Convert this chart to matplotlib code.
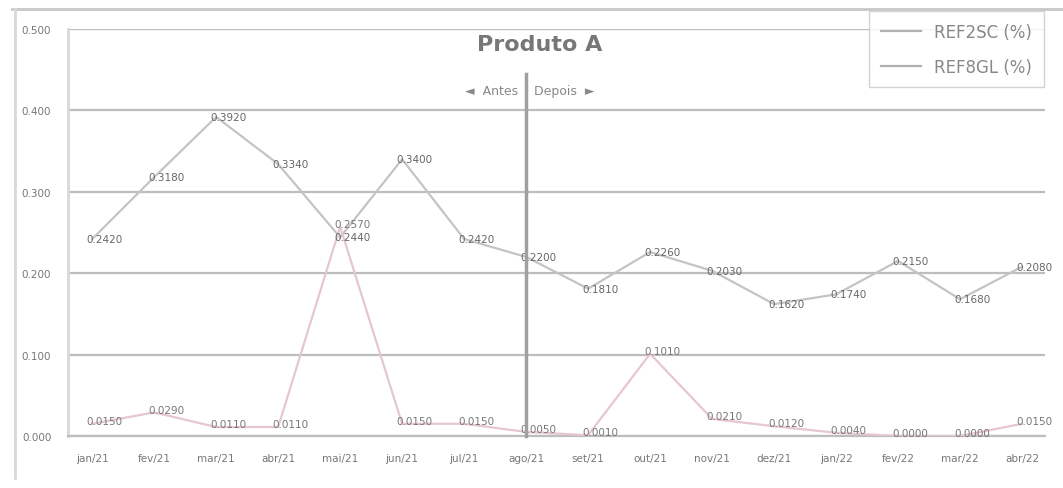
import matplotlib
matplotlib.use("Agg")
import matplotlib.pyplot as plt
from matplotlib.lines import Line2D

# Monthly categories and the two series (in %)
categories = ["jan/21", "fev/21", "mar/21", "abr/21", "mai/21", "jun/21", "jul/21", "ago/21",
              "set/21", "out/21", "nov/21", "dez/21", "jan/22", "fev/22", "mar/22", "abr/22"]
ref_a = [0.242, 0.318, 0.392, 0.334, 0.244, 0.340, 0.242, 0.220,
         0.181, 0.226, 0.203, 0.162, 0.174, 0.215, 0.168, 0.208]
ref_b = [0.015, 0.029, 0.011, 0.011, 0.257, 0.015, 0.015, 0.005,
         0.001, 0.101, 0.021, 0.012, 0.004, 0.000, 0.000, 0.015]
series_names = ["REF2SC (%)", "REF8GL (%)"]
yticks = [0.0, 0.1, 0.2, 0.3, 0.4, 0.5]
split_index = 7
split_labels = ["Antes", "Depois"]
title = "Produto A"

fig = plt.figure(figsize=(10.63, 4.89), dpi=100)
ax = fig.add_axes([68 / 1063, 52 / 489, 977 / 1063, 407 / 489])

x = list(range(len(categories)))
ax.plot(x, ref_a, color="#c4c4c4", lw=1.6, zorder=3)
ax.plot(x, ref_b, color="#e6c6d0", lw=1.6, zorder=3)

for xi, v in zip(x, ref_a):
    ax.annotate(f"{v:.4f}", (xi, v), xytext=(9, 0), textcoords="offset points",
                ha="center", va="center", fontsize=7.5, color="#666666", zorder=4)
for xi, v in zip(x, ref_b):
    ax.annotate(f"{v:.4f}", (xi, v), xytext=(9, 2), textcoords="offset points",
                ha="center", va="center", fontsize=7.5, color="#777777", zorder=4)

ax.set_xlim(-0.39, 15.37)
ax.set_ylim(0, 0.5)
ax.set_yticks(yticks)
ax.set_yticklabels([f"{t:.3f}" for t in yticks], fontsize=7.5, color="#777777")
ax.set_xticks(x)
ax.set_xticklabels(categories, fontsize=7.5, color="#777777")
ax.tick_params(length=0, pad=12)
ax.tick_params(axis="y", pad=12)
ax.grid(axis="y", color="#bdbdbd", lw=1.6)
ax.set_axisbelow(True)
for side in ["top", "right"]:
    ax.spines[side].set_visible(False)
ax.spines["left"].set_color("#d8d8d8")
ax.spines["left"].set_linewidth(2)
ax.spines["bottom"].set_color("#bdbdbd")
ax.spines["bottom"].set_linewidth(1.6)

# Split marker between periods
ax.plot([split_index, split_index], [0, 0.445], color="#a0a0a0", lw=2.5,
        clip_on=False, zorder=5)
ax.annotate("\u25c4  " + split_labels[0] + "  ", (split_index, 0.425), ha="right", va="center",
            fontsize=9, color="#888888")
ax.annotate("  " + split_labels[1] + "  \u25ba", (split_index, 0.425), ha="left", va="center",
            fontsize=9, color="#888888")

fig.text(540 / 1063, 1 - 45 / 489, title, ha="center", va="center",
         fontsize=16, fontweight="bold", color="#777777")

# Frame around the chart
fig.add_artist(Line2D([12 / 1063, 1], [1 - 10 / 489] * 2, color="#c8c8c8", lw=2))
fig.add_artist(Line2D([15 / 1063] * 2, [1 - 10 / 489, 10 / 489], color="#d8d8d8", lw=2))

handles = [Line2D([], [], color="#b0b0b0", lw=1.6), Line2D([], [], color="#b0b0b0", lw=1.6)]
leg = fig.legend(handles, series_names, loc="upper right",
                 bbox_to_anchor=(1052 / 1063, 1 - 4 / 489), fontsize=12,
                 frameon=True, fancybox=False, edgecolor="#c8c8c8",
                 handlelength=2.4, labelspacing=1.0, borderpad=0.7, handletextpad=0.8)
for t in leg.get_texts():
    t.set_color("#888888")

fig.savefig("out.png", dpi=100)
